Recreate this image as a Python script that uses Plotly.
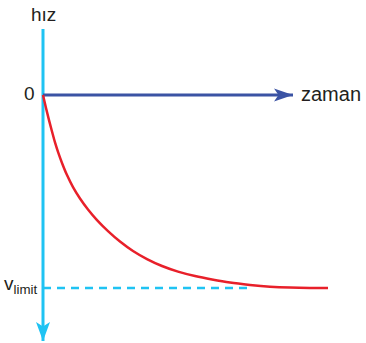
import plotly.graph_objects as go

# Velocity of a falling body approaching its terminal speed (speed in units of v_limit)
time = [0, 0.12, 0.24, 0.36, 0.48, 0.6, 0.76, 0.96, 1.2, 1.48, 1.8, 2.16, 2.6,
        3.08, 3.6, 4.16, 4.76, 5.4, 6.08, 6.76, 7.48, 8.28, 9.08, 9.88, 10.68, 11.4]
speed = [0, 0.067, 0.130, 0.189, 0.246, 0.295, 0.352, 0.415, 0.477, 0.536, 0.593,
         0.648, 0.705, 0.759, 0.808, 0.850, 0.886, 0.915, 0.938, 0.956, 0.972,
         0.984, 0.993, 0.998, 1.0, 1.0]

v_limit = 1.0
time_axis_end = 10.0
speed_axis = [-0.342, 1.275]
dash_end = 8.28

x_label = "zaman"
y_label = "hız"
zero_label = "0"
limit_label = "v<sub>limit</sub>"

CYAN = "#1fc3f3"
BLUE = "#3b53a4"
RED = "#e8202a"
TEXT = "#231f20"
FONT = "Liberation Sans, Arial, sans-serif"

fig = go.Figure()

# terminal speed reference line
fig.add_trace(go.Scatter(
    x=[0, dash_end], y=[v_limit, v_limit], mode="lines",
    line=dict(color=CYAN, width=2.5, dash="8px,6px"), hoverinfo="skip"))

# speed curve
fig.add_trace(go.Scatter(
    x=time, y=speed, mode="lines",
    line=dict(color=RED, width=2.5, shape="spline", smoothing=1.0), hoverinfo="skip"))

# notched arrowheads, sized in pixels around the axis tips
HEAD_RIGHT = "M0,0 L-19,6.5 L-14.5,0 L-19,-6.5 Z"
HEAD_DOWN = "M0,0 L-7,19 L0,14.5 L7,19 Z"

shapes = [
    # vertical speed axis (pointing downward)
    dict(type="line", xref="x", yref="y", x0=0, x1=0,
         y0=speed_axis[0], y1=speed_axis[1], line=dict(color=CYAN, width=3),
         layer="below"),
    dict(type="path", xref="x", yref="y", xsizemode="pixel", ysizemode="pixel",
         xanchor=0, yanchor=speed_axis[1], path=HEAD_DOWN,
         fillcolor=CYAN, line=dict(width=0)),
    # horizontal time axis
    dict(type="line", xref="x", yref="y", x0=0, x1=time_axis_end,
         y0=0, y1=0, line=dict(color=BLUE, width=3), layer="below"),
    dict(type="path", xref="x", yref="y", xsizemode="pixel", ysizemode="pixel",
         xanchor=time_axis_end, yanchor=0, path=HEAD_RIGHT,
         fillcolor=BLUE, line=dict(width=0)),
]

annotations = [
    dict(x=0, y=speed_axis[0], xref="x", yref="y", text=y_label, showarrow=False,
         yanchor="bottom", xanchor="center", yshift=2,
         font=dict(family=FONT, size=19, color=TEXT)),
    dict(x=0, y=0, xref="x", yref="y", text=zero_label, showarrow=False,
         xanchor="right", yanchor="middle", xshift=-6, yshift=1,
         font=dict(family=FONT, size=19, color=TEXT)),
    dict(x=time_axis_end, y=0, xref="x", yref="y", text=x_label, showarrow=False,
         xanchor="left", yanchor="middle", xshift=6, yshift=1,
         font=dict(family=FONT, size=20, color=TEXT)),
    dict(x=0, y=v_limit, xref="x", yref="y", text=limit_label, showarrow=False,
         xanchor="right", yanchor="middle", xshift=-4, yshift=3,
         font=dict(family=FONT, size=19, color=TEXT)),
]

fig.update_layout(
    width=366, height=343,
    margin=dict(l=0, r=0, t=0, b=0),
    paper_bgcolor="white", plot_bgcolor="white",
    showlegend=False,
    shapes=shapes,
    annotations=annotations,
    xaxis=dict(range=[-1.72, 12.92], visible=False, fixedrange=True),
    yaxis=dict(range=[1.285, -0.4922], visible=False, fixedrange=True),
)

fig.write_html("out.html")
